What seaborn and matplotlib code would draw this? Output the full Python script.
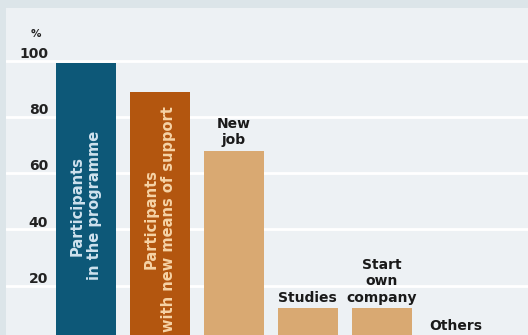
import matplotlib
matplotlib.use("Agg")
import matplotlib.pyplot as plt
import matplotlib.transforms as mtransforms
import seaborn as sns
import pandas as pd

categories = ["Participants\nin the programme",
              "Participants\nwith new means of support",
              "New\njob", "Studies", "Start\nown\ncompany", "Others"]
values = [99, 89, 68, 12, 12, 2]
inside_label = [True, True, False, False, False, False]
bar_colors = ["#0d5878", "#b3560f", "#d9a972", "#d9a972", "#d9a972", "#d9a972"]
inside_text_colors = ["#cfe2ee", "#f6d3a6"]
yticks = [20, 40, 60, 80, 100]
unit_label = "%"

sns.set_theme(style="white")
plt.rcParams['font.family'] = ['DejaVu Sans']

fig = plt.figure(figsize=(5.28, 3.35), dpi=100)
fig.patch.set_facecolor("#dce5e9")
ax = fig.add_axes([6 / 528, 0, 522 / 528, 327 / 335])
ax.set_facecolor("#edf1f4")

df = pd.DataFrame({"cat": categories, "val": values})
sns.barplot(data=df, x="cat", y="val", hue="cat", palette=bar_colors,
            legend=False, width=0.81, saturation=1, ax=ax, zorder=3,
            linewidth=0)

ax.set_xlim(-1.08, 5.98)
ax.set_ylim(2.5, 118.7)
ax.set_xticks([])
ax.set_yticks([])
ax.set_xlabel("")
ax.set_ylabel("")
for s in ax.spines.values():
    s.set_visible(False)

for t in yticks:
    ax.axhline(t, color="white", lw=2, zorder=1)

trans = mtransforms.blended_transform_factory(ax.transAxes, ax.transData)
for t in yticks:
    ax.text(0.0805, t + 2.4, str(t), transform=trans, ha="right", va="center",
            fontsize=10, fontweight="bold", color="#222222")
ax.text(0.068, 109.5, unit_label, transform=trans, ha="right", va="center",
        fontsize=7.5, fontweight="bold", color="#222222")

k = 0
for i, (lab, v, inside) in enumerate(zip(categories, values, inside_label)):
    if inside:
        ax.text(i, v * 0.49, lab, rotation=90, ha="center", va="center",
                multialignment="center", fontsize=10.5, fontweight="bold",
                color=inside_text_colors[k], linespacing=1.25, zorder=4)
        k += 1
    else:
        ax.text(i, v + 1.3, lab, ha="center", va="bottom",
                multialignment="center", fontsize=10, fontweight="bold",
                color="#1a1a1a", linespacing=1.22, zorder=4)

fig.savefig("out.png", dpi=100, facecolor=fig.get_facecolor())
